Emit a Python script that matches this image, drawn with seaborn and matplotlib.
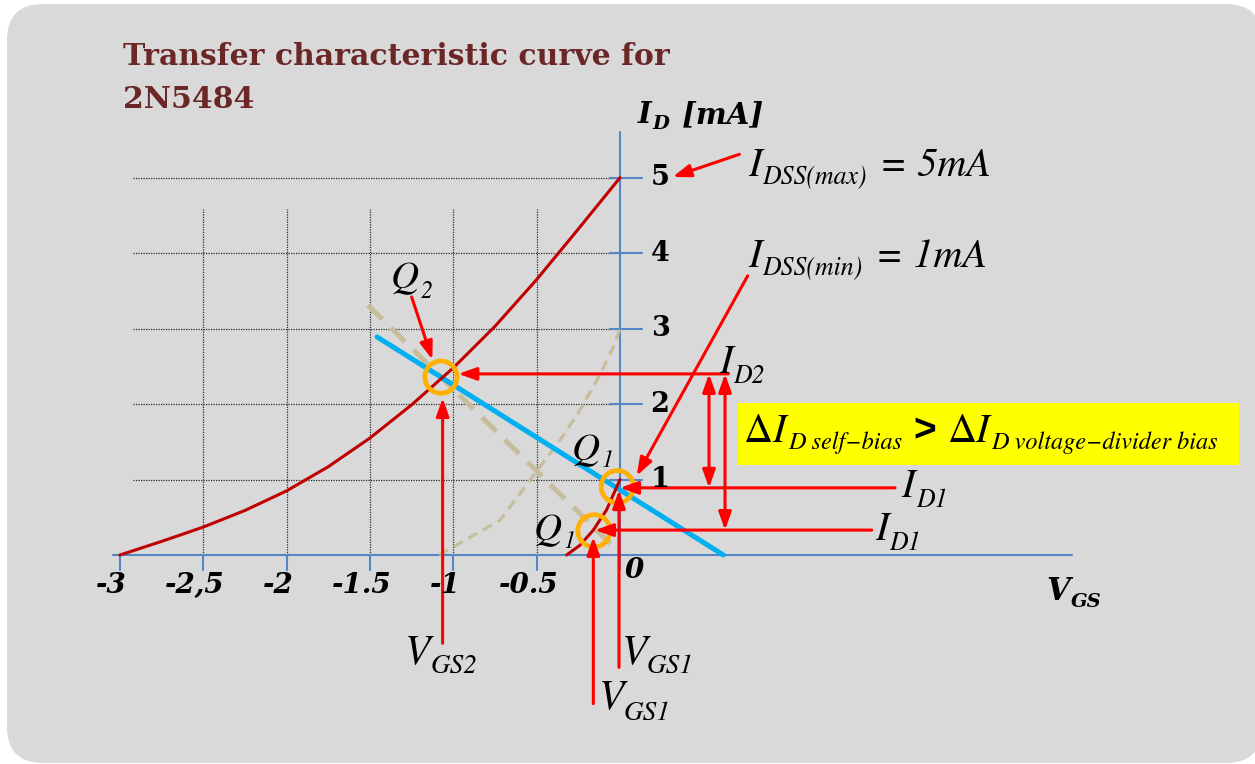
import matplotlib
matplotlib.use("Agg")
import matplotlib.pyplot as plt
from matplotlib.patches import FancyBboxPatch, Rectangle
from matplotlib.transforms import IdentityTransform
import pandas as pd
import seaborn as sns

# ---------------- data ----------------
# 2N5484 transfer curve at I_DSS(max) = 5 mA  (V_GS in V, I_D in mA)
vgs_max = [-3.0, -2.75, -2.5, -2.25, -2.0, -1.75, -1.5, -1.25, -1.0, -0.75, -0.5, -0.25, 0.0]
id_max = [0.0, 0.18, 0.37, 0.59, 0.85, 1.17, 1.55, 1.99, 2.48, 3.03, 3.65, 4.32, 5.0]

# transfer curve at I_DSS(min) = 1 mA
vgs_min = [-0.32, -0.24, -0.16, -0.08, 0.0]
id_min = [0.0, 0.13, 0.33, 0.60, 1.0]

# self-bias line
self_bias_v = [-1.457, 0.62]
self_bias_i = [2.89, 0.0]

# voltage-divider bias line (dashed)
divider_v = [-1.512, -0.02]
divider_i = [3.31, 0.07]

# square-law guide curve (dashed)
guide_v = [-1.085, -0.72, -0.51, -0.36, -0.24, -0.12, -0.04, 0.0]
guide_i = [0.0, 0.46, 1.08, 1.52, 1.92, 2.39, 2.76, 3.0]

# operating points Q2, Q1 (upper), Q1 (lower)
q_v = [-1.074, -0.016, -0.156]
q_i = [2.357, 0.905, 0.32]

# drain-current and gate-voltage readings at the operating points
id_levels = [2.40, 0.89, 0.33]       # I_D2, I_D1 (upper), I_D1 (lower)
vgs_levels = [-1.064, -0.006, -0.16]  # V_GS2, V_GS1 (upper), V_GS1 (lower)

# ticks
x_ticks = [-3, -2.5, -2, -1.5, -1, -0.5]
x_tick_labels = ["-3", "-2,5", "-2", "-1.5", "-1", "-0.5"]
y_ticks = [1, 2, 3, 4, 5]
y_tick_labels = ["1", "2", "3", "4", "5"]

# ---------------- layout ----------------
W, H = 1255, 764
ORIGIN_X, ORIGIN_Y = 620, 555        # pixel position of (0 V, 0 mA), y from top
PX_PER_V, PX_PER_MA = 166.7, 75.46

sns.set_theme(style="white")
plt.rcParams["font.family"] = ["DejaVu Serif"]

fig = plt.figure(figsize=(W / 100, H / 100), dpi=100)
fig.patch.set_facecolor("white")

panel = FancyBboxPatch((7, 1), 1255, 759,
                       boxstyle="round,pad=0,rounding_size=36",
                       transform=IdentityTransform(),
                       facecolor="#d9d9d9", edgecolor="none", zorder=0)
fig.add_artist(panel)

ax = fig.add_axes([0, 0, 1, 1])
ax.patch.set_visible(False)
ax.axis("off")
XLIM = (-ORIGIN_X / PX_PER_V, (W - ORIGIN_X) / PX_PER_V)
YLIM = ((ORIGIN_Y - H) / PX_PER_MA, ORIGIN_Y / PX_PER_MA)
ax.set_xlim(*XLIM)
ax.set_ylim(*YLIM)

# dotted grid
grid_kw = dict(color="#2a2a2a", lw=0.9, linestyle=(0, (1, 1)), zorder=1)
for yv in y_ticks:
    ax.plot([-2.92, 0], [yv, yv], **grid_kw)
for xv in x_ticks[1:]:
    ax.plot([xv, xv], [0, 4.59], **grid_kw)

# axes with ticks
axis_c = "#5585c5"
ax.plot([-3.04, 2.71], [0, 0], color=axis_c, lw=1.5, zorder=2)
ax.plot([0, 0], [-0.2, 5.6], color=axis_c, lw=1.5, zorder=2)
for xv in x_ticks:
    ax.plot([xv, xv], [0, -0.2], color=axis_c, lw=1.5, zorder=2)
for yv in y_ticks:
    ax.plot([-0.06, 0.13], [yv, yv], color=axis_c, lw=1.5, zorder=2)

# curves and bias lines
df_max = pd.DataFrame({"VGS": vgs_max, "ID": id_max})
df_min = pd.DataFrame({"VGS": vgs_min, "ID": id_min})
df_self = pd.DataFrame({"VGS": self_bias_v, "ID": self_bias_i})
df_div = pd.DataFrame({"VGS": divider_v, "ID": divider_i})
df_guide = pd.DataFrame({"VGS": guide_v, "ID": guide_i})

sns.lineplot(data=df_guide, x="VGS", y="ID", ax=ax, color="#c8bd9a", lw=2.2,
             linestyle=(0, (3.4, 2.1)), errorbar=None, zorder=3)
sns.lineplot(data=df_div, x="VGS", y="ID", ax=ax, color="#c8bd9a", lw=3.6,
             linestyle=(0, (4.0, 2.4)), errorbar=None, zorder=3)
sns.lineplot(data=df_self, x="VGS", y="ID", ax=ax, color="#00b0f0", lw=3.6,
             errorbar=None, zorder=4)
sns.lineplot(data=df_max, x="VGS", y="ID", ax=ax, color="#c00000", lw=2.2,
             errorbar=None, zorder=5)
sns.lineplot(data=df_min, x="VGS", y="ID", ax=ax, color="#c00000", lw=2.2,
             errorbar=None, zorder=5)
ax.axis("off")
ax.set_xlim(*XLIM)
ax.set_ylim(*YLIM)

# operating-point rings
ax.scatter(q_v, q_i, s=540, facecolors="none", edgecolors="#ffb000",
           linewidths=3.4, zorder=6)


def arrow(start, tip, style="-|>"):
    ax.annotate("", xy=tip, xytext=start,
                arrowprops=dict(arrowstyle=f"{style},head_length=0.9,head_width=0.32",
                                color="#ff0000", lw=2.2, shrinkA=0, shrinkB=0,
                                mutation_scale=12),
                zorder=7)


# pointers from labels
arrow((-1.25, 3.42), (-1.126, 2.59))
arrow((0.716, 5.31), (0.316, 5.01))
arrow((0.766, 3.70), (0.10, 1.05))
# drain-current projections
arrow((0.65, id_levels[0]), (-0.97, id_levels[0]))
arrow((1.65, id_levels[1]), (0.0, id_levels[1]))
arrow((1.51, id_levels[2]), (-0.15, id_levels[2]))
# gate-voltage projections
arrow((vgs_levels[0], -1.17), (vgs_levels[0], 2.08))
arrow((vgs_levels[1], -1.49), (vgs_levels[1], 0.86))
arrow((vgs_levels[2], -1.97), (vgs_levels[2], 0.24))
# current spreads
arrow((0.534, id_levels[0]), (0.534, id_levels[1]), "<|-|>")
arrow((0.63, id_levels[0]), (0.63, id_levels[2]), "<|-|>")

# highlight box
ax.add_patch(Rectangle((0.705, 1.193), 3.008, 0.817, facecolor="#ffff00",
                       edgecolor="none", zorder=6))

# ---------------- text ----------------
renderer = fig.canvas.get_renderer()
MATH = dict(family="STIXGeneral", style="italic", color="black")
BOLDIT = dict(family="DejaVu Serif", style="italic", weight="bold", color="black")


def chain(x, y, parts, base_style):
    """Lay out text pieces left to right from a baseline point in data units.
    parts: (text, size, drop_px, gap_px[, style overrides])"""
    x0, y0 = ax.transData.transform((x, y))
    cur = x0
    for p in parts:
        text, size, drop, gap = p[:4]
        st = dict(base_style)
        if len(p) > 4:
            st.update(p[4])
        t = ax.text(cur + gap, y0 - drop, text, transform=IdentityTransform(),
                    fontsize=size, ha="left", va="baseline", zorder=8, **st)
        cur = t.get_window_extent(renderer).x1


SUB = 18.5
chain(0.768, 5.02, [("I", 29, 0, 0), ("DSS(max)", SUB, 8, 1), ("= 5mA", 29, 0, 13)], MATH)
chain(0.768, 3.82, [("I", 29, 0, 0), ("DSS(min)", SUB, 8, 1), ("= 1mA", 29, 0, 13)], MATH)
chain(-1.374, 3.54, [("Q", 28, 0, 0), ("2", 17, 10, 2)], MATH)
chain(-0.289, 1.26, [("Q", 28, 0, 0), ("1", 17, 7, 2)], MATH)
chain(-0.516, 0.20, [("Q", 28, 0, 0), ("1", 17, 8, 2)], MATH)
chain(0.594, 2.41, [("I", 29, 0, 0), ("D2", SUB, 10, 1)], MATH)
chain(1.689, 0.769, [("I", 29, 0, 0), ("D1", SUB, 10, 1)], MATH)
chain(1.53, 0.199, [("I", 29, 0, 0), ("D1", SUB, 10, 1)], MATH)
chain(-1.29, -1.43, [("V", 30, 0, 0), ("GS2", 19.5, 10, 0)], MATH)
chain(0.009, -1.43, [("V", 30, 0, 0), ("GS1", 19.5, 10, 0)], MATH)
chain(-0.128, -2.03, [("V", 30, 0, 0), ("GS1", 19.5, 12, 0)], MATH)

chain(0.741, 1.50, [("Δ", 29, 0, 0, dict(style="normal")), ("I", 29, 0, 0),
                    ("D self\u2212bias", 17.5, 7, 2),
                    (">", 28, 0, 11, dict(family="Liberation Sans", style="normal",
                                          weight="bold")),
                    ("Δ", 29, 0, 11, dict(style="normal")), ("I", 29, 0, 0),
                    ("D voltage\u2212divider bias", 17.5, 7, 2)], MATH)

# axis titles
chain(0.108, 5.72, [("I", 21, 0, 0), ("D", 14, 6, 1), (" [mA]", 21, 0, 2)], BOLDIT)
chain(2.56, -0.596, [("V", 22, 0, 0), ("GS", 14, 7, 0)], BOLDIT)

# tick labels
for xv, lab in zip(x_ticks, x_tick_labels):
    ax.text(xv - 0.05, -0.407, lab, ha="center", va="center", fontsize=20, zorder=8, **BOLDIT)
ax.text(0.083, -0.21, "0", ha="center", va="center", fontsize=20, zorder=8, **BOLDIT)
for yv, lab in zip(y_ticks, y_tick_labels):
    ax.text(0.24, yv, lab, ha="center", va="center", fontsize=19.5, weight="bold",
            family="DejaVu Serif", color="black", zorder=8)

# title
title_kw = dict(transform=IdentityTransform(), fontsize=21.5, weight="bold",
                family="DejaVu Serif", color="#6b2626", ha="left", va="baseline")
fig.text(123, H - 65, "Transfer characteristic curve for", **title_kw)
fig.text(123, H - 108, "2N5484", **title_kw)

fig.savefig("out.png", dpi=100)
